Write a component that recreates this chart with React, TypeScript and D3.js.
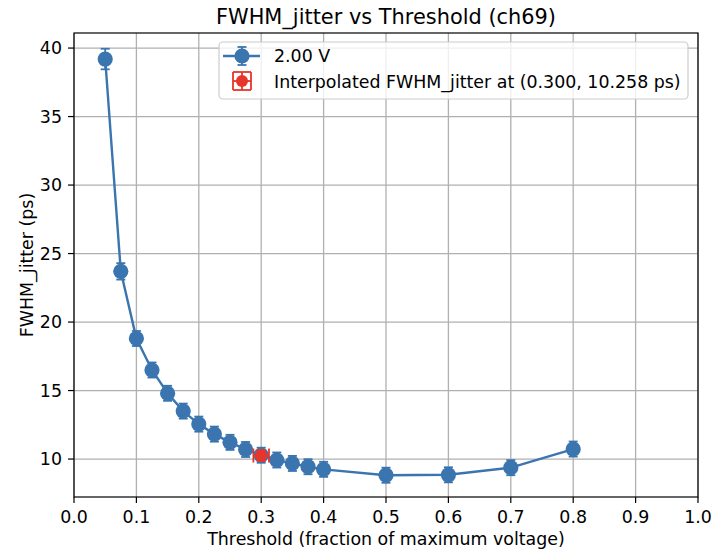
import React from "react";
import * as d3 from "d3";

const thresholds = [0.05, 0.075, 0.1, 0.125, 0.15, 0.175, 0.2, 0.225, 0.25, 0.275, 0.3, 0.325, 0.35, 0.375, 0.4, 0.5, 0.6, 0.7, 0.8];
const jitter = [39.2, 23.7, 18.8, 16.5, 14.8, 13.5, 12.55, 11.82, 11.22, 10.7, 10.28, 9.93, 9.68, 9.44, 9.25, 8.82, 8.85, 9.37, 10.73];
const jitterErr = [0.75, 0.6, 0.55, 0.55, 0.55, 0.55, 0.55, 0.55, 0.55, 0.55, 0.55, 0.55, 0.55, 0.55, 0.55, 0.55, 0.55, 0.55, 0.55];
const interpX = [0.3];
const interpY = [10.258];
const interpXErr = [0.0125];
const interpYErr = [0.4];
const xTicks = [0, 0.1, 0.2, 0.3, 0.4, 0.5, 0.6, 0.7, 0.8, 0.9, 1.0];
const yTicks = [10, 15, 20, 25, 30, 35, 40];

const BLUE = "#3a75b0";
const RED = "#e8352b";
const FONT = "DejaVu Sans, sans-serif";

export default function App() {
  const W = 711, H = 550;
  const L = 74, R = 698, T = 33, B = 497;
  const x = d3.scaleLinear().domain([0, 1]).range([L, R]);
  const y = d3.scaleLinear().domain([7.23, 41.1]).range([B, T]);
  const line = d3.line<number>().x((_, i) => x(thresholds[i])).y((d) => y(d));
  const cap = 4.5;
  const fs = 17.4;

  return (
    <svg width={W} height={H} style={{ position: "absolute", left: 0, top: 0 }} fontFamily={FONT}>
      <rect width={W} height={H} fill="white" />
      {/* grid */}
      {xTicks.map((t) => (
        <line key={"gx" + t} x1={x(t)} x2={x(t)} y1={T} y2={B} stroke="#b0b0b0" strokeWidth={1.3} />
      ))}
      {yTicks.map((t) => (
        <line key={"gy" + t} x1={L} x2={R} y1={y(t)} y2={y(t)} stroke="#b0b0b0" strokeWidth={1.3} />
      ))}
      {/* series line */}
      <path d={line(jitter) || ""} fill="none" stroke={BLUE} strokeWidth={2.4} />
      {/* error bars */}
      {jitter.map((v, i) => {
        const cx = x(thresholds[i]);
        const e = jitterErr[i];
        return (
          <g key={"e" + i} stroke={BLUE} strokeWidth={1.8}>
            <line x1={cx} x2={cx} y1={y(v - e)} y2={y(v + e)} />
            <line x1={cx - cap} x2={cx + cap} y1={y(v - e)} y2={y(v - e)} />
            <line x1={cx - cap} x2={cx + cap} y1={y(v + e)} y2={y(v + e)} />
          </g>
        );
      })}
      {jitter.map((v, i) => (
        <circle key={"m" + i} cx={x(thresholds[i])} cy={y(v)} r={7.6} fill={BLUE} />
      ))}
      {/* interpolated point */}
      {interpX.map((ix, i) => {
        const cx = x(ix), cy = y(interpY[i]);
        const x0 = x(ix - interpXErr[i]), x1 = x(ix + interpXErr[i]);
        const y0 = y(interpY[i] - interpYErr[i]), y1 = y(interpY[i] + interpYErr[i]);
        const rc = 7;
        return (
          <g key={"ip" + i} stroke={RED} strokeWidth={1.8}>
            <line x1={x0} x2={x1} y1={cy} y2={cy} />
            <line x1={x0} x2={x0} y1={cy - rc} y2={cy + rc} />
            <line x1={x1} x2={x1} y1={cy - rc} y2={cy + rc} />
            <line x1={cx} x2={cx} y1={y0} y2={y1} />
            <line x1={cx - cap} x2={cx + cap} y1={y0} y2={y0} />
            <line x1={cx - cap} x2={cx + cap} y1={y1} y2={y1} />
            <circle cx={cx} cy={cy} r={6} fill={RED} stroke="none" />
          </g>
        );
      })}
      {/* spines */}
      <rect x={L} y={T} width={R - L} height={B - T} fill="none" stroke="#000" strokeWidth={1.2} />
      {/* ticks */}
      {xTicks.map((t) => (
        <g key={"tx" + t}>
          <line x1={x(t)} x2={x(t)} y1={B} y2={B + 6} stroke="#000" strokeWidth={1.2} />
          <text x={x(t)} y={B + 26} fontSize={fs} textAnchor="middle" fill="#000">{t.toFixed(1)}</text>
        </g>
      ))}
      {yTicks.map((t) => (
        <g key={"ty" + t}>
          <line x1={L - 6} x2={L} y1={y(t)} y2={y(t)} stroke="#000" strokeWidth={1.2} />
          <text x={L - 12} y={y(t) + 6.3} fontSize={fs} textAnchor="end" fill="#000">{t}</text>
        </g>
      ))}
      {/* labels */}
      <text x={(L + R) / 2} y={24} fontSize={20.9} textAnchor="middle" fill="#000">FWHM_jitter vs Threshold (ch69)</text>
      <text x={(L + R) / 2} y={545} fontSize={fs} textAnchor="middle" fill="#000">Threshold (fraction of maximum voltage)</text>
      <text transform={`translate(33,${(T + B) / 2}) rotate(-90)`} fontSize={fs} textAnchor="middle" fill="#000">FWHM_jitter (ps)</text>
      {/* legend */}
      <g>
        <rect x={219} y={42} width={469} height={57} rx={4} fill="white" fillOpacity={0.8} stroke="#cccccc" strokeWidth={1.2} />
        <g stroke={BLUE} strokeWidth={1.8}>
          <line x1={223} x2={260} y1={56} y2={56} strokeWidth={2.4} />
          <line x1={242} x2={242} y1={47} y2={65} />
          <line x1={242 - cap} x2={242 + cap} y1={47} y2={47} />
          <line x1={242 - cap} x2={242 + cap} y1={65} y2={65} />
          <circle cx={242} cy={56} r={7.6} fill={BLUE} stroke="none" />
        </g>
        <text x={274} y={62} fontSize={fs} fill="#000">2.00 V</text>
        <g stroke={RED} strokeWidth={1.8}>
          <line x1={233} x2={251} y1={81} y2={81} />
          <line x1={233} x2={233} y1={72} y2={90} />
          <line x1={251} x2={251} y1={72} y2={90} />
          <line x1={242} x2={242} y1={72} y2={90} />
          <line x1={233} x2={251} y1={72} y2={72} />
          <line x1={233} x2={251} y1={90} y2={90} />
          <circle cx={242} cy={81} r={6} fill={RED} stroke="none" />
        </g>
        <text x={274} y={87.5} fontSize={fs} fill="#000">Interpolated FWHM_jitter at (0.300, 10.258 ps)</text>
      </g>
    </svg>
  );
}
